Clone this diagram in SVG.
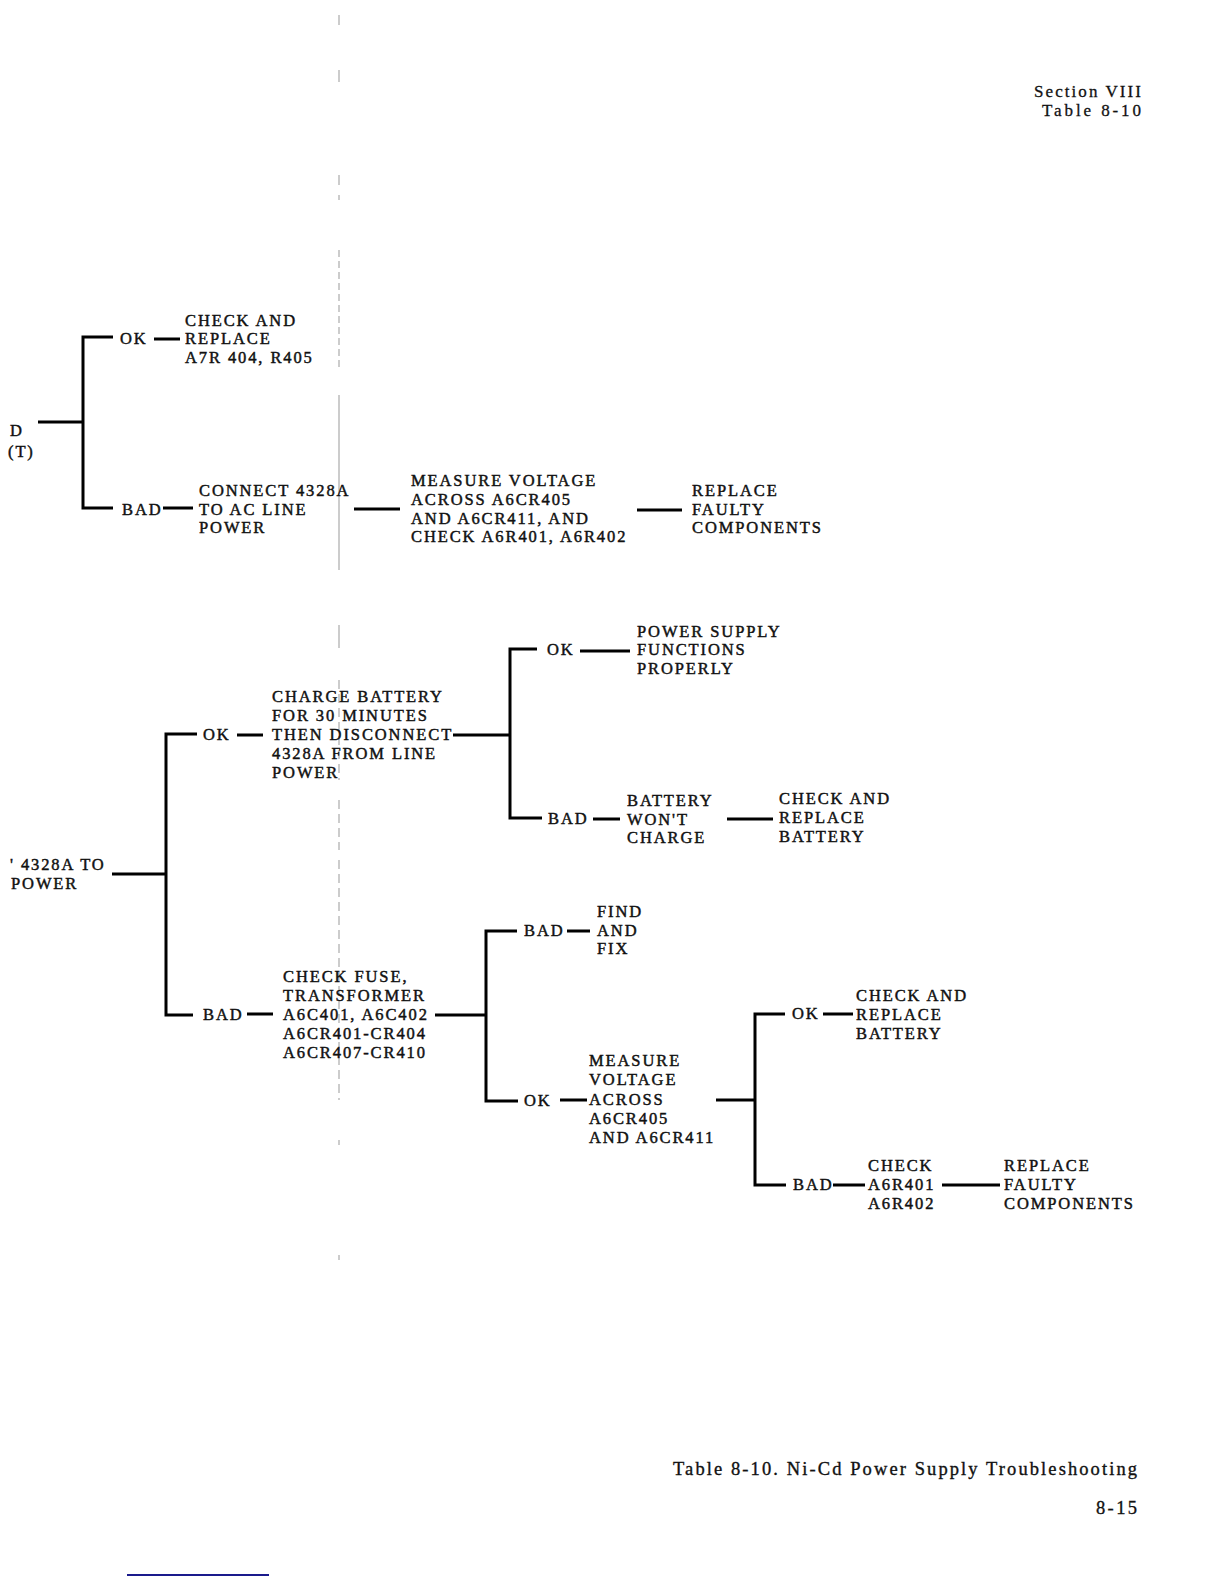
<svg xmlns="http://www.w3.org/2000/svg" width="1224" height="1584" viewBox="0 0 1224 1584">
<style>
.t{font-family:"Liberation Serif","DejaVu Serif",serif;font-size:16.5px;letter-spacing:1.9px;fill:#111;stroke:#111;stroke-width:0.45px}
.h{font-family:"Liberation Serif","DejaVu Serif",serif;font-size:18.5px;fill:#111;stroke:#111;stroke-width:0.35px}
.s{font-family:"Liberation Serif","DejaVu Serif",serif;font-size:17px;fill:#111;stroke:#111;stroke-width:0.3px}
.c{stroke:#000;stroke-width:3;fill:none}
.f{stroke:#999;stroke-width:1;fill:none}
</style>
<rect width="1224" height="1584" fill="#fff"/>

<!-- scan fold line -->
<g id="fold">
<path class="f" d="M339 15V25M339 70V82M339 175V185M339 195V200M339 395V470M339 625V648M339 1140V1145M339 1255V1260"/>
<path class="f" d="M339 250V370" stroke-dasharray="7 4"/>
<path class="f" d="M339 470V570" stroke="#777"/>
<path class="f" d="M339 680V780M339 800V850M339 860V1100" stroke-dasharray="9 5"/>
</g>

<g id="header">
<text class="s" x="1034" y="97" textLength="107" lengthAdjust="spacing">Section VIII</text>
<text class="s" x="1042" y="116" textLength="99" lengthAdjust="spacing">Table 8-10</text>
</g>

<g id="connectors">
<path class="c" d="M38 422H83M113 337H83V508H113"/>
<path class="c" d="M154 339H180M163 508H193M354 509H400M637 510H682"/>
<path class="c" d="M112 874H166M197 734H166V1015H193"/>
<path class="c" d="M237 735H263M453 735H510M537 649H510V818H542"/>
<path class="c" d="M580 651H630M593 819H620M727 819H773"/>
<path class="c" d="M247 1014H273M435 1015H486M517 931H486V1101H518"/>
<path class="c" d="M567 931H590M560 1100H587M716 1100H755M785 1014H755V1185H786"/>
<path class="c" d="M823 1014H853M833 1185H865M942 1185H1000"/>
</g>

<g id="n_top_start"><text class="t" x="10" y="436">D</text><text class="t" x="8" y="457">(T)</text></g>
<g id="n_ok1"><text class="t" x="120" y="344">OK</text></g>
<g id="n_check_r405"><text class="t" x="185" y="326">CHECK AND</text><text class="t" x="185" y="344">REPLACE</text><text class="t" x="185" y="363">A7R 404, R405</text></g>
<g id="n_bad1"><text class="t" x="122" y="515">BAD</text></g>
<g id="n_connect"><text class="t" x="199" y="496">CONNECT 4328A</text><text class="t" x="199" y="515">TO AC LINE</text><text class="t" x="199" y="533">POWER</text></g>
<g id="n_measure1"><text class="t" x="411" y="486">MEASURE VOLTAGE</text><text class="t" x="411" y="505">ACROSS A6CR405</text><text class="t" x="411" y="524">AND A6CR411, AND</text><text class="t" x="411" y="542">CHECK A6R401, A6R402</text></g>
<g id="n_replace1"><text class="t" x="692" y="496">REPLACE</text><text class="t" x="692" y="515">FAULTY</text><text class="t" x="692" y="533">COMPONENTS</text></g>

<g id="n_mid_start"><text class="t" x="10" y="870">' 4328A TO</text><text class="t" x="11" y="889">POWER</text></g>
<g id="n_ok2"><text class="t" x="203" y="740">OK</text></g>
<g id="n_charge"><text class="t" x="272" y="702">CHARGE BATTERY</text><text class="t" x="272" y="721">FOR 30 MINUTES</text><text class="t" x="272" y="740">THEN DISCONNECT</text><text class="t" x="272" y="759">4328A FROM LINE</text><text class="t" x="272" y="778">POWER</text></g>
<g id="n_ok3"><text class="t" x="547" y="655">OK</text></g>
<g id="n_functions"><text class="t" x="637" y="637">POWER SUPPLY</text><text class="t" x="637" y="655">FUNCTIONS</text><text class="t" x="637" y="674">PROPERLY</text></g>
<g id="n_bad3"><text class="t" x="548" y="824">BAD</text></g>
<g id="n_wont"><text class="t" x="627" y="806">BATTERY</text><text class="t" x="627" y="825">WON'T</text><text class="t" x="627" y="843">CHARGE</text></g>
<g id="n_replbatt1"><text class="t" x="779" y="804">CHECK AND</text><text class="t" x="779" y="823">REPLACE</text><text class="t" x="779" y="842">BATTERY</text></g>

<g id="n_bad2"><text class="t" x="203" y="1020">BAD</text></g>
<g id="n_fuse"><text class="t" x="283" y="982">CHECK FUSE,</text><text class="t" x="283" y="1001">TRANSFORMER</text><text class="t" x="283" y="1020">A6C401, A6C402</text><text class="t" x="283" y="1039">A6CR401-CR404</text><text class="t" x="283" y="1058">A6CR407-CR410</text></g>
<g id="n_bad4"><text class="t" x="524" y="936">BAD</text></g>
<g id="n_findfix"><text class="t" x="597" y="917">FIND</text><text class="t" x="597" y="936">AND</text><text class="t" x="597" y="954">FIX</text></g>
<g id="n_ok4"><text class="t" x="524" y="1106">OK</text></g>
<g id="n_measure2"><text class="t" x="589" y="1066">MEASURE</text><text class="t" x="589" y="1085">VOLTAGE</text><text class="t" x="589" y="1105">ACROSS</text><text class="t" x="589" y="1124">A6CR405</text><text class="t" x="589" y="1143">AND A6CR411</text></g>
<g id="n_ok5"><text class="t" x="792" y="1019">OK</text></g>
<g id="n_replbatt2"><text class="t" x="856" y="1001">CHECK AND</text><text class="t" x="856" y="1020">REPLACE</text><text class="t" x="856" y="1039">BATTERY</text></g>
<g id="n_bad5"><text class="t" x="793" y="1190">BAD</text></g>
<g id="n_checkr"><text class="t" x="868" y="1171">CHECK</text><text class="t" x="868" y="1190">A6R401</text><text class="t" x="868" y="1209">A6R402</text></g>
<g id="n_replace2"><text class="t" x="1004" y="1171">REPLACE</text><text class="t" x="1004" y="1190">FAULTY</text><text class="t" x="1004" y="1209">COMPONENTS</text></g>

<g id="caption">
<text class="h" x="673" y="1475" textLength="464" lengthAdjust="spacing">Table 8-10.  Ni-Cd Power Supply Troubleshooting</text>
<text class="h" x="1096" y="1514" textLength="41" lengthAdjust="spacing">8-15</text>
</g>
<line x1="127" y1="1575" x2="269" y2="1575" stroke="#1a1a8c" stroke-width="2"/>
</svg>
